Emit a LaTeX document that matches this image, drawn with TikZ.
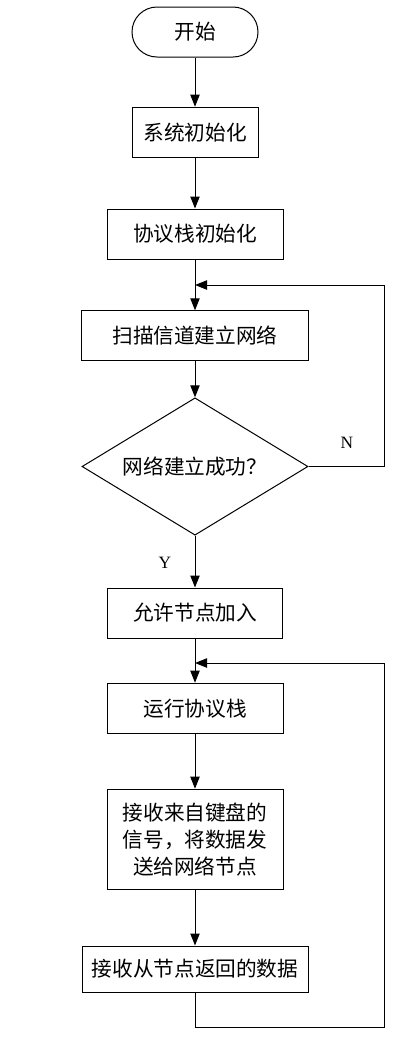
\documentclass[tikz,border=0pt]{standalone}
\usepackage{fontspec}
\setmainfont{Liberation Serif}
\newfontfamily\cjk{Noto Sans CJK SC}
\usetikzlibrary{arrows.meta,shapes.geometric,calc}
\begin{document}
\begin{tikzpicture}[x=0.75pt,y=-0.75pt,
  proc/.style={draw, line width=0.75pt, rectangle, minimum height=37.5pt, inner sep=0pt,
    font=\cjk\fontsize{15.5}{20}\selectfont, align=center},
  term/.style={proc, rounded corners=18.75pt},
  dec/.style={draw, line width=0.75pt, diamond, aspect=1.65, inner sep=0pt,
    minimum width=169.5pt, minimum height=103pt, font=\cjk\fontsize{15.5}{20}\selectfont},
  arr/.style={-{Triangle[length=9pt,width=7pt]}, line width=0.75pt},
  lbl/.style={font=\fontsize{13}{15}\selectfont, inner sep=0pt}]
\useasboundingbox (0,0) rectangle (420,1058);
\node[term, minimum width=94.5pt] (start) at (195,32) {开始};
\node[proc, minimum width=94.5pt, minimum height=38pt] (b1) at (195,132.5) {系统初始化};
\node[proc, minimum width=132pt] (b2) at (195,234) {协议栈初始化};
\node[proc, minimum width=170pt, minimum height=37pt] (b3) at (195,335.5) {扫描信道建立网络};
\node[dec] (dia) at (195,466.5) {网络建立成功？};
\node[proc, minimum width=131pt] (b4) at (195,613) {允许节点加入};
\node[proc, minimum width=132pt, minimum height=38pt] (b5) at (195,708.5) {运行协议栈};
\node[proc, minimum width=132pt, minimum height=75.5pt] (b6) at (195,839.5) {接收来自键盘的\\信号，将数据发\\送给网络节点};
\node[proc, minimum width=169.5pt, minimum height=34.5pt] (b7) at (195,969) {接收从节点返回的数据};
\node[lbl] (N) at (347,443) {N};
\node[lbl] (Y) at (165,563) {Y};
\coordinate (j1) at (195,285);
\coordinate (rN) at (384,285);
\coordinate (j2) at (195,663);
\coordinate (rb) at (384,1027);
\draw[arr] (start) -- (b1);
\draw[arr] (b1) -- (b2);
\draw[arr] (b2) -- (b3);
\draw[arr] (b3) -- (dia);
\draw[arr] (dia) -- (b4);
\draw[arr] (b4) -- (b5);
\draw[arr] (b5) -- (b6);
\draw[arr] (b6) -- (b7);
\draw[arr] (dia.east) -| (rN) -- (j1);
\draw[arr] (b7.south) |- (rb) |- (j2);
\end{tikzpicture}
\end{document}
